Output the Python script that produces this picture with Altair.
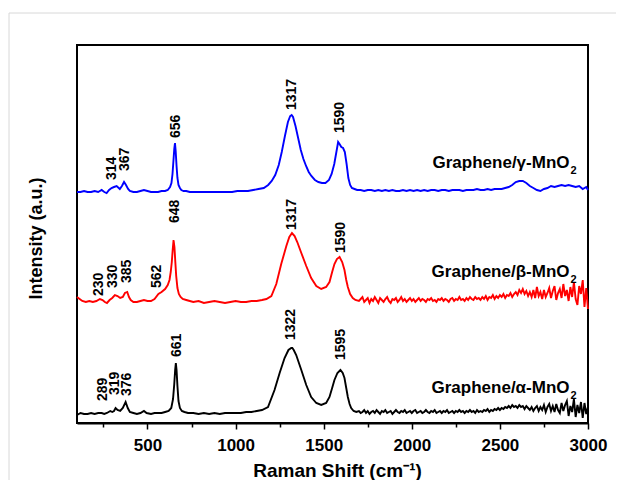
import altair as alt
import pandas as pd

FONT = "Liberation Sans"

# Stacking offsets (baseline of each trace, arbitrary units)
series_names = ["alpha", "beta", "gamma"]
series_colors = ["#000000", "#ff0000", "#0000ff"]
offsets = {"alpha": 9, "beta": 121, "gamma": 231}

# Graphene/gamma-MnO2 (blue): (Raman shift, intensity above baseline)
blue_pts = [
    (100, 0), (120, 0), (140, 1), (160, 0), (180, 0), (200, 1), (220, 0), (240, 2), (255, 0), (268, -1),
    (282, 2), (296, 4), (310, 5), (325, 6), (343, 3), (355, 6), (367, 10), (378, 7), (390, 3), (400, 1),
    (420, 0), (440, 0), (460, 1), (480, 2), (500, 1), (520, 0), (540, 0), (560, 0), (580, 1), (600, 1),
    (615, 2), (628, 5), (636, 9), (642, 18), (648, 33), (652, 43), (656, 49), (660, 41), (665, 26), (670, 14),
    (676, 7), (684, 4), (692, 2), (705, 1), (720, 1), (740, 0), (760, 0), (780, 0), (800, 0), (830, 0),
    (860, 0), (890, 0), (920, 0), (950, 0), (980, 0), (1010, 1), (1040, 1), (1070, 1), (1100, 2), (1130, 3),
    (1160, 4), (1185, 7), (1205, 11), (1225, 17), (1245, 27), (1262, 40), (1280, 56), (1297, 70), (1310, 76),
    (1318, 77), (1326, 75), (1340, 66), (1355, 54), (1370, 42), (1385, 33), (1400, 26), (1415, 20), (1430, 16),
    (1450, 12), (1470, 10), (1490, 9), (1510, 9), (1530, 12), (1545, 18), (1560, 28), (1572, 40), (1582, 50),
    (1590, 48), (1600, 45), (1610, 44), (1620, 40), (1630, 28), (1640, 14), (1650, 7), (1660, 4), (1675, 3),
    (1690, 2), (1710, 2), (1730, 1), (1750, 2), (1770, 2), (1790, 1), (1810, 2), (1830, 1), (1850, 2),
    (1870, 1), (1890, 2), (1910, 1), (1930, 1), (1950, 2), (1970, 1), (1990, 2), (2010, 1), (2030, 2),
    (2050, 1), (2070, 2), (2090, 1), (2110, 2), (2130, 2), (2150, 1), (2170, 2), (2190, 2), (2210, 1),
    (2230, 2), (2250, 2), (2270, 2), (2290, 1), (2310, 2), (2330, 2), (2350, 2), (2370, 3), (2390, 2),
    (2410, 2), (2430, 3), (2450, 2), (2470, 3), (2490, 3), (2510, 3), (2530, 4), (2550, 5), (2570, 7),
    (2590, 10), (2610, 11), (2630, 11), (2650, 9), (2670, 6), (2690, 4), (2710, 2), (2730, 1), (2750, 3),
    (2770, 4), (2790, 6), (2810, 5), (2830, 6), (2850, 7), (2870, 6), (2890, 7), (2910, 6), (2930, 5),
    (2950, 6), (2970, 3), (2990, 5), (3000, 2),
]

# Graphene/beta-MnO2 (red)
red_pts = [
    (100, 5), (115, 3), (130, 1), (150, 0), (170, 1), (190, 0), (210, 1), (230, 3), (245, 2), (258, 0),
    (270, -1), (285, 2), (300, 4), (315, 7), (330, 6), (345, 4), (360, 5), (372, 9), (385, 10), (395, 5),
    (405, 2), (420, 0), (440, 0), (460, 1), (480, 2), (500, 1), (520, 1), (540, 3), (562, 8), (580, 10),
    (600, 13), (615, 17), (625, 22), (632, 30), (638, 40), (643, 52), (648, 62), (653, 55), (658, 40),
    (663, 26), (670, 14), (678, 8), (688, 5), (700, 3), (720, 2), (740, 1), (760, 0), (790, 1), (820, -1),
    (850, 0), (880, 1), (910, 0), (940, -1), (970, 0), (1000, 1), (1030, 0), (1060, 0), (1090, 1),
    (1120, 1), (1150, 2), (1175, 3), (1203, 6), (1231, 18), (1259, 38), (1288, 56), (1305, 65), (1320, 69),
    (1335, 66), (1350, 60), (1373, 49), (1401, 36), (1429, 24), (1458, 16), (1486, 13), (1514, 15),
    (1533, 20), (1548, 30), (1561, 38), (1575, 43), (1590, 45), (1605, 40), (1618, 32), (1628, 22),
    (1637, 15), (1650, 8), (1665, 4), (1680, 2),
    (1700, 1), (1710, 3), (1720, 5), (1730, 0), (1740, 2), (1750, 4), (1760, -1), (1770, 3), (1780, 1), (1790, 5),
    (1800, 2), (1810, -1), (1820, 4), (1830, 2), (1840, 0), (1850, 3), (1860, 5), (1870, 1), (1880, -1), (1890, 3),
    (1900, 2), (1910, 4), (1920, 0), (1930, 2), (1940, 5), (1950, 1), (1960, 3), (1970, 0), (1980, 2), (1990, 4),
    (2000, 1), (2010, 3), (2020, 0), (2030, 2), (2040, 4), (2050, 1), (2060, 3), (2070, 2), (2080, 0), (2090, 3),
    (2100, 2), (2110, 4), (2120, 1), (2130, 2), (2140, 0), (2150, 3), (2160, 2), (2170, 4), (2180, 1), (2190, 3),
    (2200, 2), (2210, 0), (2220, 3), (2230, 4), (2240, 1), (2250, 3), (2260, 2), (2270, 5), (2280, 2), (2290, 3),
    (2300, 1), (2310, 4), (2320, 2), (2330, 5), (2340, 3), (2350, 2), (2360, 5), (2370, 3), (2380, 4), (2390, 2),
    (2400, 5), (2410, 3), (2420, 6), (2430, 2), (2440, 5), (2450, 4), (2460, 7), (2470, 3), (2480, 6), (2490, 4),
    (2500, 7), (2510, 5), (2520, 8), (2530, 4), (2540, 7), (2550, 6), (2560, 9), (2570, 5), (2580, 8), (2590, 10),
    (2600, 7), (2610, 12), (2620, 9), (2630, 13), (2640, 8), (2650, 11), (2660, 6), (2670, 10), (2680, 5), (2690, 12),
    (2700, 4), (2710, 15), (2720, 6), (2730, 10), (2740, 3), (2750, 12), (2760, 5), (2770, 9), (2780, 14), (2790, 4),
    (2800, 11), (2810, 16), (2820, 2), (2830, 9), (2840, 13), (2850, 4), (2860, 18), (2870, 6), (2880, 12), (2890, 1),
    (2900, 15), (2910, 5), (2920, 20), (2930, 3), (2940, -3), (2950, 16), (2960, 8), (2970, 22), (2980, -5),
    (2990, 14), (3000, -7),
]

# Graphene/alpha-MnO2 (black)
black_pts = [
    (100, -1), (120, 1), (140, 0), (160, 0), (180, 1), (200, 0), (220, 1), (240, 1), (255, 0), (270, 1),
    (289, 3), (300, 2), (310, 3), (319, 6), (330, 4), (345, 3), (360, 6), (376, 12), (388, 6), (400, 2),
    (420, 1), (440, 0), (460, 1), (480, 3), (495, 1), (520, 0), (540, 1), (560, 1), (580, 1), (600, 2),
    (620, 3), (635, 6), (645, 15), (652, 30), (657, 44), (661, 51), (665, 44), (670, 28), (676, 13),
    (684, 6), (695, 3), (710, 2), (730, 1), (760, 1), (790, 0), (820, 1), (850, 0), (880, 1), (910, 0),
    (940, 1), (970, 1), (1000, 1), (1030, 1), (1060, 2), (1090, 2), (1120, 3), (1150, 4), (1184, 7),
    (1221, 24), (1250, 41), (1278, 56), (1300, 64), (1316, 66), (1322, 66), (1330, 64), (1344, 59),
    (1373, 44), (1401, 29), (1429, 17), (1458, 11), (1486, 9), (1514, 11), (1533, 17), (1548, 26),
    (1561, 34), (1578, 41), (1595, 44), (1608, 41), (1618, 36), (1628, 26), (1637, 17), (1647, 10),
    (1656, 6), (1670, 3), (1685, 2),
    (1700, 3), (1710, 1), (1720, 2), (1730, 4), (1740, 1), (1750, 3), (1760, 0), (1770, 2), (1780, 3), (1790, 1),
    (1800, 4), (1810, 2), (1820, 0), (1830, 3), (1840, 2), (1850, 4), (1860, 1), (1870, 2), (1880, 3), (1890, 0),
    (1900, 2), (1910, 4), (1920, 2), (1930, 1), (1940, 3), (1950, 2), (1960, 4), (1970, 1), (1980, 2), (1990, 3),
    (2000, 1), (2010, 3), (2020, 4), (2030, 1), (2040, 2), (2050, 3), (2060, 1), (2070, 2), (2080, 4), (2090, 2),
    (2100, 1), (2110, 3), (2120, 2), (2130, 4), (2140, 1), (2150, 2), (2160, 3), (2170, 1), (2180, 3), (2190, 2),
    (2200, 4), (2210, 1), (2220, 2), (2230, 3), (2240, 1), (2250, 3), (2260, 2), (2270, 4), (2280, 2), (2290, 3),
    (2300, 1), (2310, 3), (2320, 2), (2330, 4), (2340, 2), (2350, 3), (2360, 1), (2370, 4), (2380, 2), (2390, 3),
    (2400, 2), (2410, 4), (2420, 3), (2430, 5), (2440, 2), (2450, 4), (2460, 3), (2470, 5), (2480, 4), (2490, 6),
    (2500, 4), (2510, 6), (2520, 5), (2530, 7), (2540, 6), (2550, 8), (2560, 6), (2570, 9), (2580, 7), (2590, 8),
    (2600, 6), (2610, 9), (2620, 7), (2630, 8), (2640, 5), (2650, 8), (2660, 6), (2670, 4), (2680, 7), (2690, 3),
    (2700, 6), (2710, 8), (2720, 3), (2730, 7), (2740, 4), (2750, 9), (2760, 2), (2770, 7), (2780, 10), (2790, 3),
    (2800, 8), (2810, 2), (2820, 10), (2830, 4), (2840, 1), (2850, 11), (2860, 3), (2870, 9), (2880, 13), (2890, -2),
    (2900, 8), (2910, 2), (2920, 15), (2930, -3), (2940, 9), (2950, 1), (2960, 12), (2970, -4), (2980, 11),
    (2990, 0), (3000, 7),
]

# Peak annotations: text, x position, y of label bottom
peak_text = ["314", "367", "656", "1317", "1590",
             "230", "330", "385", "562", "648", "1317", "1590",
             "289", "319", "376", "661", "1322", "1595"]
peak_x = [298, 375, 663, 1318, 1590,
          224, 306, 385, 552, 658, 1318, 1599,
          249, 313, 384, 665, 1316, 1599]
peak_y = [243, 252, 285, 313, 290,
          127, 135, 140, 135, 200, 193, 170,
          22, 28, 27, 66, 83, 63]

# Sample labels
sample_main = ["Graphene/γ-MnO", "Graphene/β-MnO", "Graphene/α-MnO"]
sample_sub = ["2", "2", "2"]
sample_y = [255, 146, 30]
sample_x_end = 2895

x_tick_values = [250, 500, 750, 1000, 1250, 1500, 1750, 2000, 2250, 2500, 2750, 3000]

rows = []
for name, pts in [("alpha", black_pts), ("beta", red_pts), ("gamma", blue_pts)]:
    for sx, h in pts:
        rows.append({"series": name, "shift": sx, "intensity": offsets[name] + h})
df = pd.DataFrame(rows)

peaks_df = pd.DataFrame({"text": peak_text, "x": peak_x, "y": peak_y})
samples_df = pd.DataFrame({"main": sample_main, "sub": sample_sub, "y": sample_y,
                           "x": [sample_x_end] * 3})

xscale = alt.Scale(domain=[100, 3000], nice=False, zero=False)
yscale = alt.Scale(domain=[0, 378], nice=False, zero=False)

border = alt.Chart(pd.DataFrame({"a": [0]})).mark_rect(
    filled=False, stroke="#d8d8d8", strokeWidth=1
).encode(x=alt.value(-68), x2=alt.value(900), y=alt.value(-32), y2=alt.value(900))

lines = alt.Chart(df).mark_line(strokeWidth=1.9).encode(
    x=alt.X("shift:Q", scale=xscale, axis=alt.Axis(
        values=x_tick_values, format="d",
        labelExpr="datum.value % 500 === 0 ? datum.label : ''",
        tickSize={"condition": {"test": "datum.value % 500 === 0", "value": 6}, "value": 4},
        tickWidth=1.5, tickColor="black", domainColor="black", domainWidth=2,
        labelFont=FONT, labelFontSize=17, labelFontWeight="bold", labelColor="black",
        labelPadding=8, labelFlush=False, labelOverlap=False, grid=False,
        title="Raman Shift (cm⁻¹)", titleFont=FONT, titleFontSize=19, titleFontWeight="bold",
        titleColor="black", titleBaseline="alphabetic", titleY=53, titleX=260,
    )),
    y=alt.Y("intensity:Q", scale=yscale, axis=alt.Axis(
        labels=False, ticks=False, domain=False, grid=False,
        title="Intensity (a.u.)", titleFont=FONT, titleFontSize=18, titleFontWeight="bold",
        titleColor="black", titleX=-32, titleY=193,
    )),
    color=alt.Color("series:N", scale=alt.Scale(domain=series_names, range=series_colors), legend=None),
)

peaks = alt.Chart(peaks_df).mark_text(
    angle=270, align="left", baseline="middle", font=FONT, fontSize=14,
    fontWeight="bold", color="black"
).encode(x=alt.X("x:Q", scale=xscale), y=alt.Y("y:Q", scale=yscale), text="text:N")

samples = alt.Chart(samples_df).mark_text(
    align="right", baseline="alphabetic", font=FONT, fontSize=17,
    fontWeight="bold", color="black"
).encode(x=alt.X("x:Q", scale=xscale), y=alt.Y("y:Q", scale=yscale), text="main:N")

subs = alt.Chart(samples_df).mark_text(
    align="left", baseline="alphabetic", font=FONT, fontSize=11,
    fontWeight="bold", color="black", dx=1, dy=6
).encode(x=alt.X("x:Q", scale=xscale), y=alt.Y("y:Q", scale=yscale), text="sub:N")

chart = alt.layer(border, lines, peaks, samples, subs).properties(
    width=511, height=378,
    padding={"left": 69, "top": 37, "right": 28, "bottom": 57},
    autosize=alt.AutoSizeParams(type="none"),
).configure_view(stroke="black", strokeWidth=2)

chart.save("out.html", embed_options={"renderer": "svg", "actions": False})
